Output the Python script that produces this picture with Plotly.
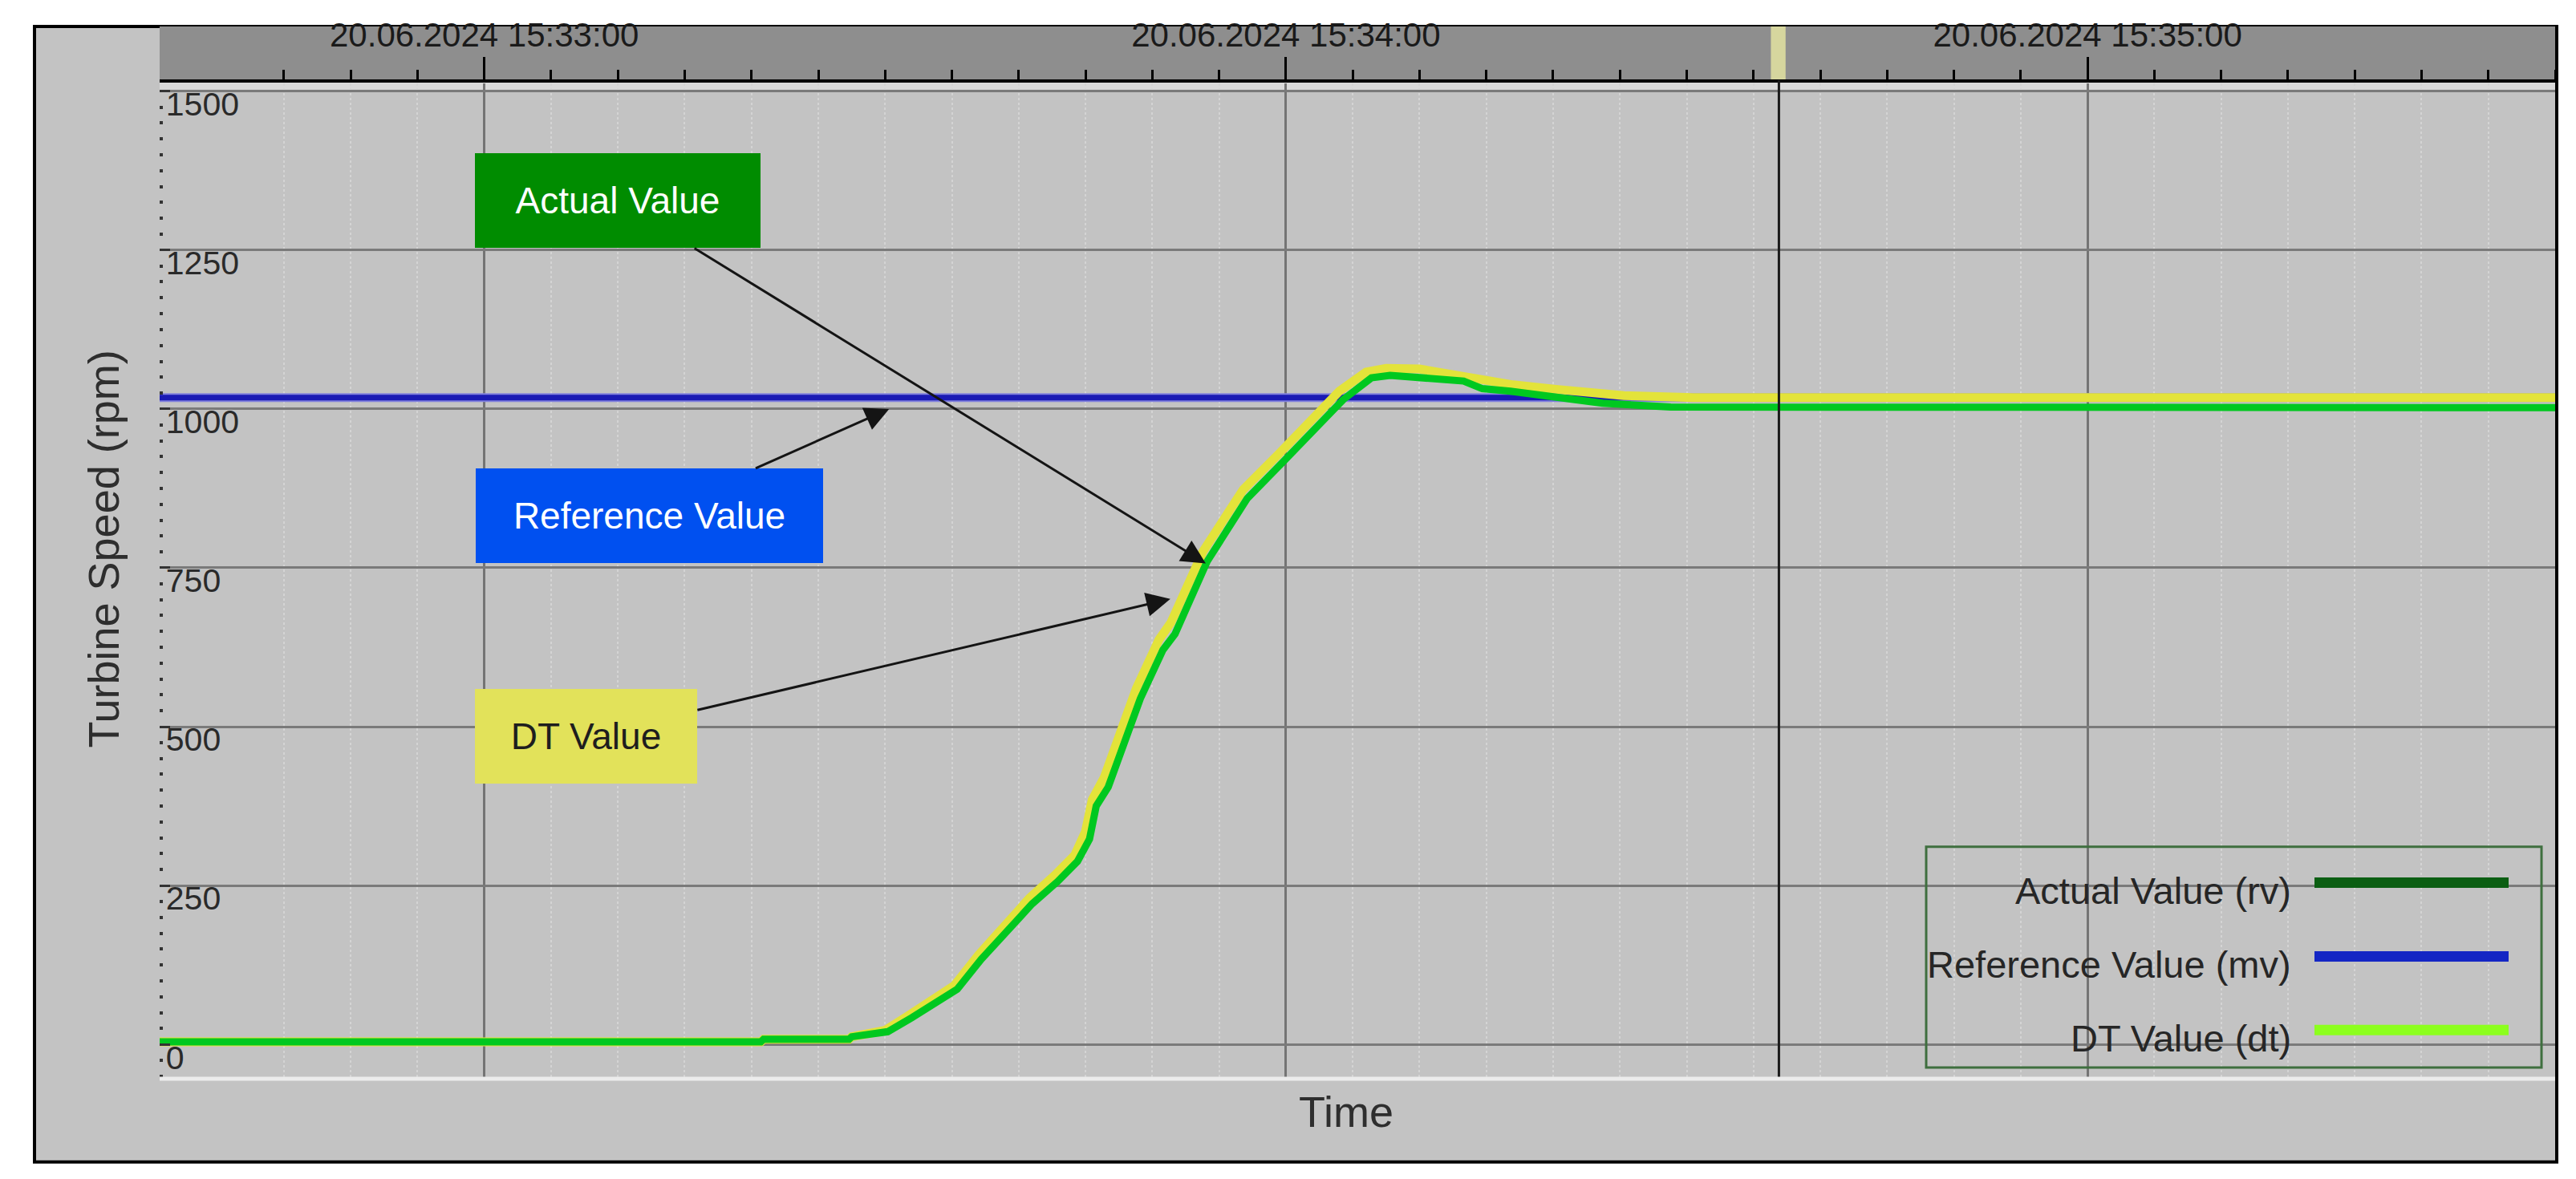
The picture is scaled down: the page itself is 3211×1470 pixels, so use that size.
import pandas as pd
import plotly.graph_objects as go

# time axis origin, all series are given as seconds after 15:33:00
t0 = pd.Timestamp('2024-06-20 15:33:00')

actual_sec = [-25, 20.7, 20.9, 27.3, 27.5, 28.9, 30.2, 32.0, 35.4, 37.2, 39.2, 41.0, 42.9, 44.4, 45.3, 45.8, 46.7,
              48.2, 49.1, 50.8, 51.7, 54.1, 57.1, 59.8, 62.3, 64.3, 66.4, 67.8, 73.3, 74.7, 76.8, 80.2, 83.7, 88.8, 156]
actual_rpm = [4, 4, 8, 8, 12, 15, 20, 42, 87, 134, 179, 221, 256, 288, 323, 375, 405,
              497, 544, 621, 646, 760, 859, 917, 972, 1015, 1049, 1053, 1044, 1032, 1028, 1019, 1009, 1003, 1002]

dt_sec = [-25, 20.7, 20.9, 27.3, 27.5, 28.9, 30.0, 31.8, 35.2, 37.0, 39.0, 40.8, 42.7, 44.2, 45.0, 45.5, 46.4, 47.9,
          48.8, 50.5, 51.4, 53.8, 56.8, 59.5, 62.0, 64.0, 66.0, 67.5, 70.0, 73.3, 75.0, 77.0, 80.2, 83.0, 85.3, 90.5, 156]
dt_rpm = [4, 4, 8, 8, 12, 16, 22, 46, 93, 141, 187, 230, 266, 298, 335, 385, 420, 512,
          560, 637, 664, 776, 873, 930, 985, 1028, 1058, 1064, 1063, 1052, 1046, 1038, 1031, 1025, 1021, 1018, 1018]

ref_sec = [-25, 156]
ref_rpm = [1018, 1018]

legend_names = ['Actual Value (rv)', 'Reference Value (mv)', 'DT Value (dt)']
legend_colors = ['#0b5e12', '#1426c4', '#8cff1e']

FONT = 'Arial, Liberation Sans, sans-serif'
W, H = 3211, 1470
L, R, T, B = 191, 3177, 22, 1350
Y_LO, Y_HI = -70.5, 1512
PX_PER_RPM = (B - 103) / (1500 - Y_LO)   # 1500 rpm gridline sits at y=103


def px(x): return (x - L) / (R - L)
def py(y): return (B - y) / (B - T)
def sec(s): return t0 + pd.to_timedelta(s, unit='s')


fig = go.Figure()
fig.add_trace(go.Scatter(x=t0 + pd.to_timedelta(ref_sec, unit='s'), y=ref_rpm, mode='lines',
                         line=dict(color='#8080dc', width=11), hoverinfo='skip', showlegend=False))
fig.add_trace(go.Scatter(x=t0 + pd.to_timedelta(ref_sec, unit='s'), y=ref_rpm, mode='lines',
                         line=dict(color='#1a1ab4', width=7), name='Reference Value (mv)'))
fig.add_trace(go.Scatter(x=t0 + pd.to_timedelta(dt_sec, unit='s'), y=dt_rpm, mode='lines',
                         line=dict(color='#e3e33a', width=11), name='DT Value (dt)'))
fig.add_trace(go.Scatter(x=t0 + pd.to_timedelta(actual_sec, unit='s'), y=actual_rpm, mode='lines',
                         line=dict(color='#00c820', width=9), name='Actual Value (rv)'))

shapes = [
    # outer panel
    dict(type='rect', xref='paper', yref='paper', x0=px(35), x1=px(3179), y0=py(1441), y1=py(22),
         fillcolor='#c3c3c3', line=dict(color='black', width=4), layer='below'),
    # time header band
    dict(type='rect', xref='paper', yref='paper', x0=0, x1=1, y0=py(90), y1=1,
         fillcolor='#8e8e8e', line=dict(width=0), layer='below'),
    dict(type='rect', xref='paper', yref='paper', x0=0, x1=1, y0=py(101), y1=py(92),
         fillcolor='#d9d9d9', line=dict(width=0), layer='below'),
    # cursor
    dict(type='rect', xref='x', yref='paper', x0=sec(96.3), x1=sec(97.4), y0=py(89), y1=1,
         fillcolor='#d6d69e', line=dict(width=0), layer='below'),
    dict(type='line', xref='x', yref='paper', x0=sec(96.9), x1=sec(96.9), y0=py(1337), y1=py(89),
         line=dict(color='#1a1a1a', width=3), layer='above'),
    # bottom edge of plot
    dict(type='rect', xref='paper', yref='paper', x0=0, x1=1, y0=0, y1=py(1339),
         fillcolor='#c3c3c3', line=dict(width=0), layer='above'),
    dict(type='line', xref='paper', yref='paper', x0=0, x1=1, y0=py(1337), y1=py(1337),
         line=dict(color='#ececec', width=5), layer='above'),
    # legend box
    dict(type='rect', xref='paper', yref='paper', x0=px(2393), x1=px(3160), y0=py(1323), y1=py(1047),
         line=dict(color='#3f6f3f', width=3), layer='above'),
]
annotations = []
for i, (name, col) in enumerate(zip(legend_names, legend_colors)):
    yl = 1092 + i * 92
    shapes.append(dict(type='line', xref='paper', yref='paper', x0=px(2877), x1=px(3119), y0=py(yl), y1=py(yl),
                       line=dict(color=col, width=13), layer='above'))
    annotations.append(dict(text=name, xref='paper', yref='paper', x=px(2850), y=py(yl + 10),
                            xanchor='right', yanchor='middle', showarrow=False,
                            font=dict(family=FONT, size=47, color='#262626')))

# callout boxes: (text, tip time s, tip rpm, ax, ay, width, bg, fg)
callouts = [
    ('Actual Value', 54.0, 757, -733, -452, 356, '#008c00', 'white'),
    ('Reference Value', 30.3, 1000, -299, 133, 433, '#0050f0', 'white'),
    ('DT Value', 51.35, 701, -728, 171, 277, '#e2e25a', '#1e1e1e'),
]
for text, ts, tv, ax, ay, w, bg, fg in callouts:
    annotations.append(dict(text=text, x=sec(ts), y=tv, xref='x', yref='y', ax=ax, ay=ay,
                            showarrow=True, arrowhead=2, arrowsize=2, arrowwidth=3, arrowcolor='#141414',
                            width=w, height=118, bgcolor=bg, borderwidth=0, borderpad=0,
                            font=dict(family=FONT, size=46, color=fg)))

annotations.append(dict(text='Turbine Speed (rpm)', xref='paper', yref='paper', x=px(121), y=py(675),
                        xanchor='center', yanchor='middle', textangle=-90, showarrow=False,
                        font=dict(family=FONT, size=54, color='#2e2e2e')))
annotations.append(dict(text='Time', xref='paper', yref='paper', x=px(1670), y=py(1378),
                        xanchor='center', yanchor='middle', showarrow=False,
                        font=dict(family=FONT, size=54, color='#2e2e2e')))

fig.update_layout(
    width=W, height=H, margin=dict(l=L, r=W - R, t=T, b=H - B),
    paper_bgcolor='white', plot_bgcolor='#c3c3c3', showlegend=False,
    shapes=shapes, annotations=annotations,
    xaxis=dict(side='top', anchor='free', position=py(90),
               range=[sec(-24.3), sec(155.0)], tick0=t0, dtick=60000,
               tickformat='%d.%m.%Y %H:%M:%S', ticks='outside', ticklen=28, tickwidth=3, tickcolor='black',
               ticklabelstandoff=-4, tickfont=dict(family=FONT, size=42, color='#1a1a1a'),
               showline=True, linecolor='black', linewidth=4,
               showgrid=True, gridcolor='#747474', gridwidth=3, zeroline=False,
               minor=dict(dtick=5000, tick0=t0, ticks='outside', ticklen=12, tickwidth=3, tickcolor='black',
                          showgrid=True, gridcolor='#d4d4d4', griddash='dot', gridwidth=2)),
    yaxis=dict(domain=[0, py(103 - (Y_HI - 1500) * PX_PER_RPM)], range=[Y_LO, Y_HI], tick0=0, dtick=250,
               ticks='inside', ticklen=13, tickwidth=3, tickcolor='#333333',
               ticklabelposition='inside', ticklabelshift=16,
               tickfont=dict(family=FONT, size=41, color='#2a2a2a'),
               showline=False, showgrid=True, gridcolor='#7a7a7a', gridwidth=3, zeroline=False,
               minor=dict(dtick=25, ticks='inside', ticklen=4, tickwidth=4, tickcolor='#333333', showgrid=False)),
)

fig.write_html('out.html')
